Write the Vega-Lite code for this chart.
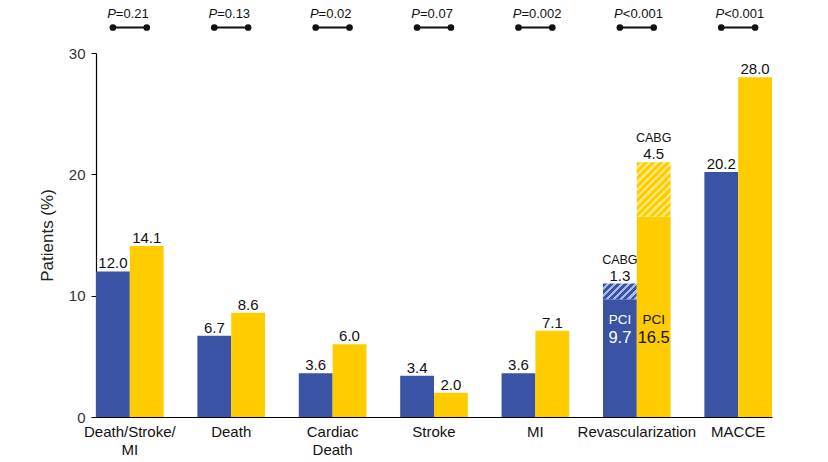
{
  "$schema": "https://vega.github.io/schema/vega-lite/v6.json",
  "width": 676,
  "height": 364,
  "autosize": {"type": "none"},
  "padding": {"left": 96, "top": 53, "right": 56, "bottom": 45},
  "background": "white",
  "config": {
    "view": {"stroke": null},
    "font": "Liberation Sans",
    "axis": {"grid": false}
  },
  "datasets": {
    "bars": [
      {"cat": "Death/Stroke/MI", "group": "A", "part": "Total", "value": 12.0},
      {"cat": "Death/Stroke/MI", "group": "B", "part": "Total", "value": 14.1},
      {"cat": "Death", "group": "A", "part": "Total", "value": 6.7},
      {"cat": "Death", "group": "B", "part": "Total", "value": 8.6},
      {"cat": "Cardiac Death", "group": "A", "part": "Total", "value": 3.6},
      {"cat": "Cardiac Death", "group": "B", "part": "Total", "value": 6.0},
      {"cat": "Stroke", "group": "A", "part": "Total", "value": 3.4},
      {"cat": "Stroke", "group": "B", "part": "Total", "value": 2.0},
      {"cat": "MI", "group": "A", "part": "Total", "value": 3.6},
      {"cat": "MI", "group": "B", "part": "Total", "value": 7.1},
      {"cat": "Revascularization", "group": "A", "part": "PCI", "value": 9.7},
      {"cat": "Revascularization", "group": "A", "part": "CABG", "value": 1.3},
      {"cat": "Revascularization", "group": "B", "part": "PCI", "value": 16.5},
      {"cat": "Revascularization", "group": "B", "part": "CABG", "value": 4.5},
      {"cat": "MACCE", "group": "A", "part": "Total", "value": 20.2},
      {"cat": "MACCE", "group": "B", "part": "Total", "value": 28.0}
    ],
    "pvals": [
      {"cat": "Death/Stroke/MI", "rest": "=0.21"},
      {"cat": "Death", "rest": "=0.13"},
      {"cat": "Cardiac Death", "rest": "=0.02"},
      {"cat": "Stroke", "rest": "=0.07"},
      {"cat": "MI", "rest": "=0.002"},
      {"cat": "Revascularization", "rest": "<0.001"},
      {"cat": "MACCE", "rest": "<0.001"}
    ]
  },
  "encoding": {
    "x": {
      "field": "cat",
      "type": "nominal",
      "sort": ["Death/Stroke/MI", "Death", "Cardiac Death", "Stroke", "MI", "Revascularization", "MACCE"],
      "scale": {"paddingInner": 0.333, "paddingOuter": 0},
      "axis": {
        "title": null,
        "labelAngle": 0,
        "ticks": false,
        "domainColor": "#000",
        "domainWidth": 1.2,
        "labelFontSize": 15,
        "labelColor": "#111",
        "labelPadding": 7,
        "labelBaseline": "top",
        "labelLineHeight": 18,
        "labelExpr": "datum.value==='Death/Stroke/MI' ? ['Death/Stroke/','MI'] : datum.value==='Cardiac Death' ? ['Cardiac','Death'] : datum.value"
      }
    }
  },
  "layer": [
    {
      "data": {"name": "bars"},
      "mark": {"type": "bar"},
      "encoding": {
        "xOffset": {"field": "group", "type": "nominal", "scale": {"paddingInner": 0, "paddingOuter": 0}},
        "y": {
          "field": "value",
          "type": "quantitative",
          "stack": "zero",
          "scale": {"domain": [0, 30], "nice": false},
          "axis": {
            "title": "Patients (%)",
            "values": [0, 10, 20, 30],
            "tickSize": 5,
            "tickColor": "#000",
            "domainColor": "#000",
            "domainWidth": 1.2,
            "labelFontSize": 15,
            "labelColor": "#333",
            "labelPadding": 6,
            "titleFontSize": 17,
            "titleFontWeight": "normal",
            "titleColor": "#222",
            "titlePadding": 12
          }
        },
        "order": {"field": "part", "sort": "descending"},
        "color": {
          "condition": [
            {
              "test": "datum.part==='CABG' && datum.group==='A'",
              "value": {
                "gradient": "linear", "x1": 0, "y1": 0, "x2": 1.205, "y2": 0.56,
                "stops": [
                  {"offset": 0, "color": "#3A53A4"}, {"offset": 0.0786, "color": "#3A53A4"},
                  {"offset": 0.0786, "color": "#A9BBE6"}, {"offset": 0.1429, "color": "#A9BBE6"},
                  {"offset": 0.1429, "color": "#3A53A4"}, {"offset": 0.2214, "color": "#3A53A4"},
                  {"offset": 0.2214, "color": "#A9BBE6"}, {"offset": 0.2857, "color": "#A9BBE6"},
                  {"offset": 0.2857, "color": "#3A53A4"}, {"offset": 0.3643, "color": "#3A53A4"},
                  {"offset": 0.3643, "color": "#A9BBE6"}, {"offset": 0.4286, "color": "#A9BBE6"},
                  {"offset": 0.4286, "color": "#3A53A4"}, {"offset": 0.5071, "color": "#3A53A4"},
                  {"offset": 0.5071, "color": "#A9BBE6"}, {"offset": 0.5714, "color": "#A9BBE6"},
                  {"offset": 0.5714, "color": "#3A53A4"}, {"offset": 0.65, "color": "#3A53A4"},
                  {"offset": 0.65, "color": "#A9BBE6"}, {"offset": 0.7143, "color": "#A9BBE6"},
                  {"offset": 0.7143, "color": "#3A53A4"}, {"offset": 0.7929, "color": "#3A53A4"},
                  {"offset": 0.7929, "color": "#A9BBE6"}, {"offset": 0.8571, "color": "#A9BBE6"},
                  {"offset": 0.8571, "color": "#3A53A4"}, {"offset": 0.9357, "color": "#3A53A4"},
                  {"offset": 0.9357, "color": "#A9BBE6"}, {"offset": 1, "color": "#A9BBE6"}
                ]
              }
            },
            {
              "test": "datum.part==='CABG' && datum.group==='B'",
              "value": {
                "gradient": "linear", "x1": 0, "y1": 0, "x2": 0.724, "y2": 1.171,
                "stops": [
                  {"offset": 0, "color": "#FFCC00"}, {"offset": 0.0458, "color": "#FFCC00"},
                  {"offset": 0.0458, "color": "#FFE77A"}, {"offset": 0.0833, "color": "#FFE77A"},
                  {"offset": 0.0833, "color": "#FFCC00"}, {"offset": 0.1292, "color": "#FFCC00"},
                  {"offset": 0.1292, "color": "#FFE77A"}, {"offset": 0.1667, "color": "#FFE77A"},
                  {"offset": 0.1667, "color": "#FFCC00"}, {"offset": 0.2125, "color": "#FFCC00"},
                  {"offset": 0.2125, "color": "#FFE77A"}, {"offset": 0.25, "color": "#FFE77A"},
                  {"offset": 0.25, "color": "#FFCC00"}, {"offset": 0.2958, "color": "#FFCC00"},
                  {"offset": 0.2958, "color": "#FFE77A"}, {"offset": 0.3333, "color": "#FFE77A"},
                  {"offset": 0.3333, "color": "#FFCC00"}, {"offset": 0.3792, "color": "#FFCC00"},
                  {"offset": 0.3792, "color": "#FFE77A"}, {"offset": 0.4167, "color": "#FFE77A"},
                  {"offset": 0.4167, "color": "#FFCC00"}, {"offset": 0.4625, "color": "#FFCC00"},
                  {"offset": 0.4625, "color": "#FFE77A"}, {"offset": 0.5, "color": "#FFE77A"},
                  {"offset": 0.5, "color": "#FFCC00"}, {"offset": 0.5458, "color": "#FFCC00"},
                  {"offset": 0.5458, "color": "#FFE77A"}, {"offset": 0.5833, "color": "#FFE77A"},
                  {"offset": 0.5833, "color": "#FFCC00"}, {"offset": 0.6292, "color": "#FFCC00"},
                  {"offset": 0.6292, "color": "#FFE77A"}, {"offset": 0.6667, "color": "#FFE77A"},
                  {"offset": 0.6667, "color": "#FFCC00"}, {"offset": 0.7125, "color": "#FFCC00"},
                  {"offset": 0.7125, "color": "#FFE77A"}, {"offset": 0.75, "color": "#FFE77A"},
                  {"offset": 0.75, "color": "#FFCC00"}, {"offset": 0.7958, "color": "#FFCC00"},
                  {"offset": 0.7958, "color": "#FFE77A"}, {"offset": 0.8333, "color": "#FFE77A"},
                  {"offset": 0.8333, "color": "#FFCC00"}, {"offset": 0.8792, "color": "#FFCC00"},
                  {"offset": 0.8792, "color": "#FFE77A"}, {"offset": 0.9167, "color": "#FFE77A"},
                  {"offset": 0.9167, "color": "#FFCC00"}, {"offset": 0.9625, "color": "#FFCC00"},
                  {"offset": 0.9625, "color": "#FFE77A"}, {"offset": 1, "color": "#FFE77A"}
                ]
              }
            }
          ],
          "field": "group",
          "type": "nominal",
          "scale": {"domain": ["A", "B"], "range": ["#3A53A4", "#FFCC00"]},
          "legend": null
        }
      }
    },
    {
      "data": {"name": "bars"},
      "transform": [
        {"joinaggregate": [{"op": "sum", "field": "value", "as": "top"}], "groupby": ["cat", "group"]},
        {"filter": "datum.part !== 'PCI'"}
      ],
      "mark": {"type": "text", "baseline": "alphabetic", "dy": -3, "fontSize": 15, "color": "#111"},
      "encoding": {
        "xOffset": {"field": "group", "type": "nominal"},
        "y": {"field": "top", "type": "quantitative", "title": "Patients (%)"},
        "text": {"field": "value", "type": "quantitative", "format": ".1f"}
      }
    },
    {
      "data": {"name": "bars"},
      "transform": [
        {"joinaggregate": [{"op": "sum", "field": "value", "as": "top"}], "groupby": ["cat", "group"]},
        {"filter": "datum.part === 'CABG'"}
      ],
      "mark": {"type": "text", "baseline": "alphabetic", "dy": -20, "fontSize": 12.5, "color": "#111"},
      "encoding": {
        "xOffset": {"field": "group", "type": "nominal"},
        "y": {"field": "top", "type": "quantitative", "title": "Patients (%)"},
        "text": {"field": "part", "type": "nominal"}
      }
    },
    {
      "data": {"name": "bars"},
      "transform": [{"filter": "datum.part === 'PCI'"}],
      "mark": {"type": "text", "baseline": "alphabetic", "fontSize": 13.5},
      "encoding": {
        "xOffset": {"field": "group", "type": "nominal"},
        "y": {"datum": 7.66, "type": "quantitative", "title": "Patients (%)"},
        "text": {"field": "part", "type": "nominal"},
        "color": {"condition": {"test": "datum.group==='A'", "value": "white"}, "value": "#111"}
      }
    },
    {
      "data": {"name": "bars"},
      "transform": [{"filter": "datum.part === 'PCI'"}],
      "mark": {"type": "text", "baseline": "alphabetic", "fontSize": 16.5},
      "encoding": {
        "xOffset": {"field": "group", "type": "nominal"},
        "y": {"datum": 6.12, "type": "quantitative", "title": "Patients (%)"},
        "text": {"field": "value", "type": "quantitative", "format": ".1f"},
        "color": {"condition": {"test": "datum.group==='A'", "value": "white"}, "value": "#111"}
      }
    },
    {
      "data": {"name": "bars"},
      "transform": [{"filter": "datum.part !== 'CABG'"}],
      "mark": {"type": "line", "color": "#111", "strokeWidth": 2},
      "encoding": {
        "xOffset": {"field": "group", "type": "nominal"},
        "y": {"datum": 32.1, "type": "quantitative", "title": "Patients (%)"},
        "detail": {"field": "cat", "type": "nominal"}
      }
    },
    {
      "data": {"name": "bars"},
      "transform": [{"filter": "datum.part !== 'CABG'"}],
      "mark": {"type": "point", "filled": true, "color": "#111", "size": 45, "opacity": 1},
      "encoding": {
        "xOffset": {"field": "group", "type": "nominal"},
        "y": {"datum": 32.1, "type": "quantitative", "title": "Patients (%)"}
      }
    },
    {
      "data": {"name": "pvals"},
      "mark": {"type": "text", "baseline": "alphabetic", "align": "right", "dx": -14, "fontSize": 13, "fontStyle": "italic", "color": "#111"},
      "encoding": {
        "y": {"datum": 32.86, "type": "quantitative", "title": "Patients (%)"},
        "text": {"value": "P"}
      }
    },
    {
      "data": {"name": "pvals"},
      "mark": {"type": "text", "baseline": "alphabetic", "align": "left", "dx": -14, "fontSize": 13, "color": "#111"},
      "encoding": {
        "y": {"datum": 32.86, "type": "quantitative", "title": "Patients (%)"},
        "text": {"field": "rest", "type": "nominal"}
      }
    }
  ]
}
